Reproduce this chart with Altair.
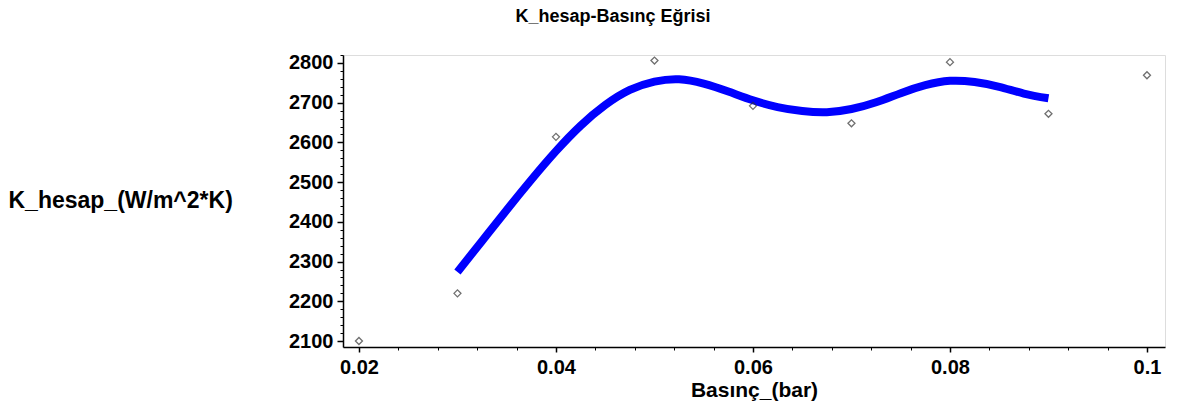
import altair as alt
import pandas as pd

# Measured K values at each pressure
pressure = [0.02, 0.03, 0.04, 0.05, 0.06, 0.07, 0.08, 0.09, 0.10]
k_measured = [2100, 2220, 2614, 2806, 2692, 2648, 2802, 2672, 2769]

# Fitted curve over 0.03 - 0.09 bar, sampled every 0.0025 bar
fit_pressure = [0.0300, 0.0325, 0.0350, 0.0375, 0.0400, 0.0425, 0.0450, 0.0475,
                0.0500, 0.0525, 0.0550, 0.0575, 0.0600, 0.0625, 0.0650, 0.0675,
                0.0700, 0.0725, 0.0750, 0.0775, 0.0800, 0.0825, 0.0850, 0.0875,
                0.0900]
fit_k = [2274, 2352, 2430, 2506, 2578, 2642, 2694, 2732,
         2753, 2759, 2748, 2728, 2706, 2689, 2679, 2676,
         2684, 2701, 2724, 2744, 2755, 2752, 2740, 2723,
         2711]

x_major = [0.02, 0.04, 0.06, 0.08, 0.1]
x_minor = [round(0.02 + 0.004 * i, 4) for i in range(21)]
y_major = [2100, 2200, 2300, 2400, 2500, 2600, 2700, 2800]
y_minor = [2100 + 20 * i for i in range(37)]

FONT = "Liberation Sans"

points_df = pd.DataFrame({"p": pressure, "k": k_measured})
fit_df = pd.DataFrame({"p": fit_pressure, "k": fit_k})

x_scale = alt.Scale(domain=[0.01838, 0.10183], nice=False, zero=False)
y_scale = alt.Scale(domain=[2085, 2820], nice=False, zero=False)

curve = alt.Chart(fit_df).mark_line(
    color="#0000ff", strokeWidth=8, interpolate="natural", strokeCap="butt"
).encode(
    x=alt.X("p:Q", scale=x_scale, axis=alt.Axis(
        values=x_major, format="~g", orient="bottom",
        title="Basınç_(bar)", titleFont=FONT, titleFontSize=21, titleFontWeight="bold",
        titleColor="black", titlePadding=2,
        labelFont=FONT, labelFontSize=20, labelFontWeight="bold", labelColor="black",
        labelPadding=5, tickSize=5, tickColor="black", tickWidth=1.5,
        domainColor="black", domainWidth=1.5, grid=False, labelFlush=False)),
    y=alt.Y("k:Q", scale=y_scale, axis=alt.Axis(
        values=y_major, format="d", orient="left",
        title="K_hesap_(W/m^2*K)", titleFont=FONT, titleFontSize=23, titleFontWeight="bold",
        titleColor="black", titleAngle=0, titleAlign="left", titleBaseline="middle",
        titleX=-335, titleY=145,
        labelFont=FONT, labelFontSize=20, labelFontWeight="bold", labelColor="black",
        labelPadding=4, tickSize=6, tickColor="black", tickWidth=1.5,
        domainColor="black", domainWidth=1.5, grid=False, labelFlush=False)),
)

marks = alt.Chart(points_df).mark_point(
    shape="diamond", size=49, filled=False, color="#333333", strokeWidth=1.3
).encode(
    x=alt.X("p:Q", scale=x_scale, axis=alt.Axis(
        values=x_minor, orient="bottom", labels=False, domain=False, title=None,
        tickSize=3, tickColor="black", tickWidth=1, grid=False)),
    y=alt.Y("k:Q", scale=y_scale, axis=alt.Axis(
        values=y_minor, orient="left", labels=False, domain=False, title=None,
        tickSize=3, tickColor="black", tickWidth=1, grid=False)),
)

chart = alt.layer(curve, marks).resolve_axis(
    x="independent", y="independent"
).properties(
    width=822,
    height=292,
    autosize=alt.AutoSizeParams(type="none"),
    padding={"left": 343, "top": 55, "right": 12, "bottom": 66},
    title=alt.TitleParams(
        "K_hesap-Basınç Eğrisi", font=FONT, fontSize=18, fontWeight="bold",
        color="black", anchor="middle", dx=-141, offset=27,
    ),
).configure_view(stroke=None).configure(background="white")

chart.save("out.html", embed_options={"renderer": "svg", "actions": False})
